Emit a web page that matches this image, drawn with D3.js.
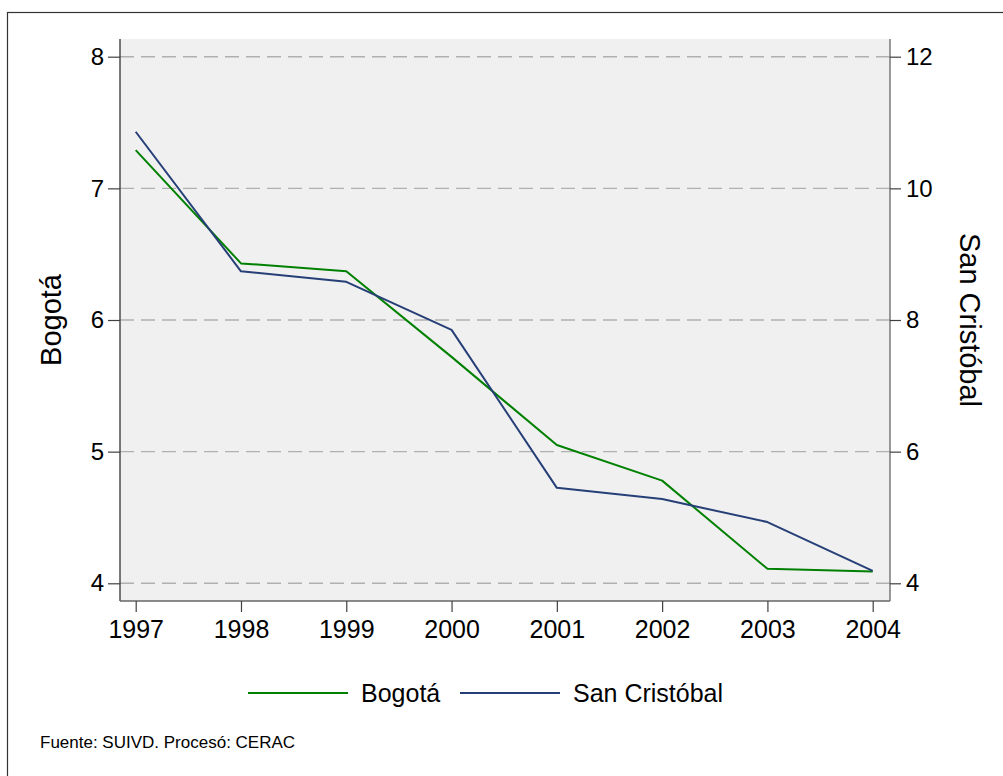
<!DOCTYPE html>
<html>
<head>
<meta charset="utf-8">
<script src="https://cdn.jsdelivr.net/npm/d3@7"></script>
<style>
    body { margin: 0; background: #fff; }
    svg { display: block; font-family: "Liberation Sans", Arial, sans-serif; }
</style>
</head>
<body>
<svg id="chart"></svg>
<script>
const years = [1997, 1998, 1999, 2000, 2001, 2002, 2003, 2004];
const bogota = [7.29, 6.43, 6.37, 5.72, 5.05, 4.78, 4.11, 4.09];
const sanCristobal = [10.86, 8.74, 8.58, 7.85, 5.45, 5.28, 4.93, 4.19];
const leftTicks = [4, 5, 6, 7, 8];
const rightTicks = [4, 6, 8, 10, 12];

const width = 1003, height = 776;
const plot = { left: 120, right: 890, top: 39, bottom: 601 };

const svg = d3.select("#chart")
    .attr("width", width)
    .attr("height", height);

//outer frame (only left and top edges are inside the picture)
svg.append("rect")
    .attr("x", 7.5).attr("y", 12.5)
    .attr("width", 1200).attr("height", 1000)
    .attr("fill", "none")
    .attr("stroke", "#333")
    .attr("stroke-width", 1.2);

//plot region
svg.append("rect")
    .attr("x", plot.left).attr("y", plot.top)
    .attr("width", plot.right - plot.left)
    .attr("height", plot.bottom - plot.top)
    .attr("fill", "#f0f0f0");

const xScale = d3.scaleLinear()
    .domain([1997, 2004])
    .range([135.7, 872.7]);
const yLeft = d3.scaleLinear()
    .domain([4, 8])
    .range([583.3, 56.7]);
const yRight = d3.scaleLinear()
    .domain([4, 12])
    .range([583.3, 56.7]);

//dashed grid lines
svg.append("g")
    .selectAll("line")
    .data(leftTicks)
    .join("line")
    .attr("x1", plot.left).attr("x2", plot.right)
    .attr("y1", d => yLeft(d)).attr("y2", d => yLeft(d))
    .attr("stroke", "#b0b0b0")
    .attr("stroke-width", 1.4)
    .attr("stroke-dasharray", "14,7");

//left axis
const leftAxis = svg.append("g")
    .attr("transform", `translate(${plot.left},0)`)
    .call(d3.axisLeft(yLeft).tickValues(leftTicks).tickSize(12).tickPadding(4).tickFormat(d3.format("d")));
leftAxis.select(".domain").attr("d", `M0,${plot.top}V${plot.bottom}`).attr("stroke", "#404040").attr("stroke-width", 1.4);
leftAxis.selectAll(".tick line").attr("stroke", "#404040").attr("stroke-width", 1.2);
leftAxis.selectAll(".tick text").attr("font-size", 24).attr("fill", "#000").attr("font-family", "Liberation Sans, Arial, sans-serif");

//right axis
const rightAxis = svg.append("g")
    .attr("transform", `translate(${plot.right},0)`)
    .call(d3.axisRight(yRight).tickValues(rightTicks).tickSize(11).tickPadding(5).tickFormat(d3.format("d")));
rightAxis.select(".domain").attr("d", `M0,${plot.top}V${plot.bottom}`).attr("stroke", "#707070").attr("stroke-width", 1.4);
rightAxis.selectAll(".tick line").attr("stroke", "#404040").attr("stroke-width", 1.2);
rightAxis.selectAll(".tick text").attr("font-size", 24).attr("fill", "#000").attr("font-family", "Liberation Sans, Arial, sans-serif");

//bottom axis
const bottomAxis = svg.append("g")
    .attr("transform", `translate(0,${plot.bottom})`)
    .call(d3.axisBottom(xScale).tickValues(years).tickSize(11).tickPadding(8).tickFormat(d3.format("d")));
bottomAxis.select(".domain").attr("d", `M${plot.left},0H${plot.right}`).attr("stroke", "#666").attr("stroke-width", 1.4);
bottomAxis.selectAll(".tick line").attr("stroke", "#404040").attr("stroke-width", 1.2);
bottomAxis.selectAll(".tick text").attr("font-size", 25).attr("fill", "#000").attr("font-family", "Liberation Sans, Arial, sans-serif");

//axis titles
svg.append("text")
    .attr("transform", `translate(61,${(plot.top + plot.bottom) / 2}) rotate(-90)`)
    .attr("text-anchor", "middle")
    .attr("font-size", 29)
    .text("Bogotá");
svg.append("text")
    .attr("transform", `translate(960,${(plot.top + plot.bottom) / 2}) rotate(90)`)
    .attr("text-anchor", "middle")
    .attr("font-size", 29)
    .text("San Cristóbal");

//lines
const series = [
    { name: "Bogotá", values: bogota, y: yLeft, color: "#008000" },
    { name: "San Cristóbal", values: sanCristobal, y: yRight, color: "#263f77" }
];
series.forEach(s => {
    svg.append("path")
        .datum(s.values)
        .attr("fill", "none")
        .attr("stroke", s.color)
        .attr("stroke-width", 2)
        .attr("stroke-linejoin", "round")
        .attr("d", d3.line()
            .x((d, i) => xScale(years[i]))
            .y(d => s.y(d)));
});

//legend
const legendX = [248, 460];
series.forEach((s, i) => {
    const g = svg.append("g").attr("transform", `translate(${legendX[i]},693)`);
    g.append("line")
        .attr("x1", 0).attr("x2", 100)
        .attr("stroke", s.color)
        .attr("stroke-width", 2);
    g.append("text")
        .attr("x", 113).attr("y", 9)
        .attr("font-size", 25)
        .text(s.name);
});

//source note
svg.append("text")
    .attr("x", 40).attr("y", 748)
    .attr("font-size", 17)
    .text("Fuente: SUIVD. Procesó: CERAC");
</script>
</body>
</html>
